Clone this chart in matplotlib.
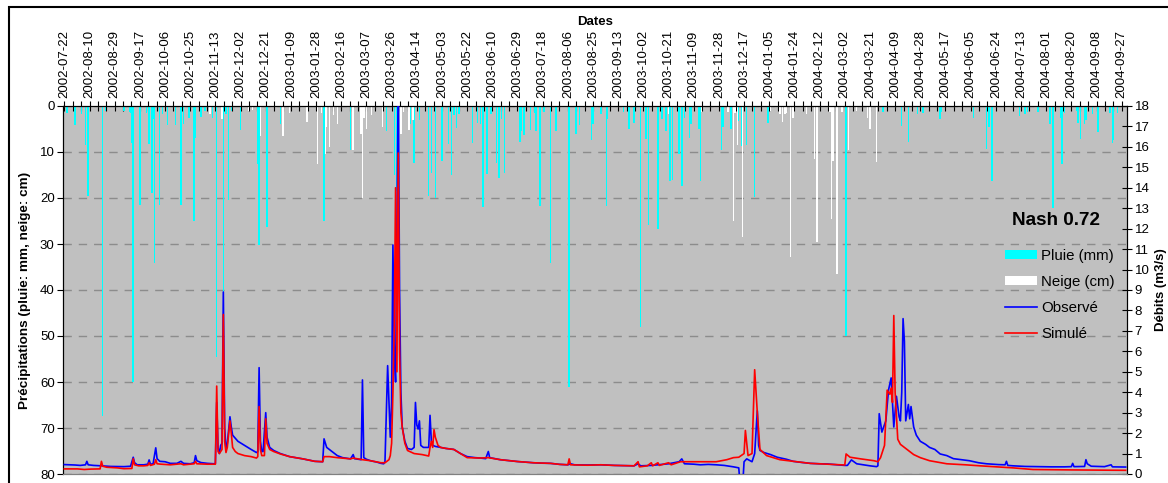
import numpy as np
import pandas as pd
import matplotlib
matplotlib.use('Agg')
import matplotlib.pyplot as plt
from matplotlib.ticker import MultipleLocator
from matplotlib.patches import Patch, Rectangle
from matplotlib.lines import Line2D

plt.rcParams['font.family'] = ['Liberation Sans', 'DejaVu Sans']

start = pd.Timestamp('2002-07-22')

# pluie journaliere (jour depuis le debut, mm)
rain_days = [2, 8, 13, 16, 18, 29, 31, 45, 49, 50, 51, 52, 57, 62, 64, 66, 67, 68, 72, 74,
             78, 84, 88, 90, 94, 98, 99, 103, 106, 112, 115, 120, 122, 124, 126, 133, 146, 147,
             153, 163, 196, 216, 243, 249, 251, 261, 264, 268, 275, 277, 280, 285, 290, 292,
             294, 296, 298, 308, 312, 314, 316, 319, 322, 326, 328, 330, 332, 344, 345, 347,
             352, 355, 356, 359, 362, 367, 371, 381, 386, 389, 398, 399, 405, 409, 410, 422,
             426, 430, 435, 439, 441, 448, 451, 454, 457, 459, 464, 466, 468, 472, 473, 479,
             480, 496, 497, 503, 509, 511, 515, 521, 531, 590, 618, 632, 637, 644, 648, 661,
             662, 686, 696, 698, 700, 721, 725, 727, 735, 744, 746, 752, 753, 755, 764, 765,
             767, 770, 771, 776, 780, 789, 791, 792, 795]
rain_mm = [1.6, 4.1, 1.8, 8.5, 19.5, 67.4, 1.0, 1.0, 1.2, 1.5, 8.0, 60.0, 21.5, 1.5, 8.3, 19.0, 2.8, 34.2, 21.5, 1.8,
           4.1, 4.1, 21.5, 4.0, 2.5, 25.1, 7.0, 2.3, 1.0, 2.5, 54.5, 42.0, 1.8, 20.4, 1.0, 5.2, 12.5, 30.2,
           26.2, 4.0, 25.1, 9.6, 5.5, 15.0, 18.4, 4.0, 12.4, 3.0, 19.6, 14.5, 20.1, 12.0, 8.2, 15.0,
           2.0, 4.8, 1.8, 8.1, 3.8, 4.0, 22.0, 14.7, 1.8, 12.3, 15.6, 2.9, 14.5, 7.8, 5.5, 6.3,
           5.2, 1.5, 5.5, 21.7, 1.3, 34.2, 5.4, 61.0, 6.0, 4.1, 7.4, 4.0, 1.8, 21.7, 2.9, 1.2,
           5.0, 3.6, 48.0, 7.1, 25.9, 26.8, 2.9, 5.5, 16.3, 16.1, 10.4, 17.4, 2.6, 7.0, 4.0, 5.0,
           16.4, 9.5, 4.5, 5.0, 3.2, 8.8, 8.4, 19.7, 3.6, 50.0, 1.3, 4.3, 7.8, 1.8, 1.5, 2.8,
           1.2, 2.5, 9.4, 4.5, 16.2, 2.2, 1.8, 1.4, 1.4, 4.0, 22.2, 2.5, 12.5, 1.5, 1.0, 3.6,
           7.1, 4.0, 3.1, 1.8, 5.6, 1.6, 8.0, 7.4, 1.5]

# neige journaliere (jour depuis le debut, cm)
snow_days = [110, 119, 139, 142, 148, 165, 170, 183, 191, 194, 197, 198, 200, 203, 206, 218,
             224, 225, 226, 228, 232, 240, 254, 256, 260, 263, 456, 481, 501, 505, 506, 508,
             512, 533, 540, 542, 544, 545, 548, 550, 560, 566, 568, 578, 579, 580, 583, 587,
             592, 598, 606, 608, 613]
snow_cm = [1.8, 2.9, 1.0, 0.8, 6.5, 6.5, 1.5, 3.4, 12.5, 1.5, 10.5, 4.6, 9.0, 2.0, 4.0, 9.6,
           6.0, 20.0, 2.6, 5.0, 2.0, 4.6, 6.1, 1.3, 5.2, 3.0, 1.8, 1.2, 1.2, 24.9, 1.5, 8.4,
           28.4, 1.0, 1.8, 3.4, 1.8, 1.5, 32.9, 2.5, 1.8, 11.6, 29.5, 1.2, 24.6, 12.0, 36.5, 1.2,
           9.6, 1.0, 2.5, 5.0, 12.1]

# debits observes (m3/s)
obs_days = [0, 4, 8, 12, 15, 16, 17, 18, 22, 28, 35, 45, 50, 52, 53, 55, 60, 63, 64, 65,
            67, 69, 70, 72, 76, 80, 85, 88, 90, 95, 98, 99, 100, 103, 108, 113, 114, 115, 116, 117,
            118, 119, 120, 121, 122, 123, 125, 126, 127, 129, 131, 136, 141, 145, 146, 147, 148, 149,
            150, 152, 153, 155, 158, 163, 170, 180, 189, 195, 196, 198, 201, 206, 210, 216, 218, 219,
            222, 224, 225, 226, 228, 231, 236, 239, 241, 242, 243, 244, 245, 246, 247, 248, 249, 250,
            251, 252, 253, 254, 255, 257, 259, 262, 264, 265, 266, 267, 268, 269, 271, 275, 276, 277,
            278, 280, 284, 288, 294, 299, 304, 310, 314, 318, 320, 321, 329, 335, 342, 348, 354, 360,
            367, 374, 380, 382, 385, 395, 405, 415, 425, 430, 433, 435, 443, 448, 456, 460, 464, 466,
            468, 475, 480, 486, 492, 498, 505, 509, 510, 512, 513, 515, 519, 521, 523, 524, 525, 528,
            533, 538, 545, 550, 556, 563, 570, 576, 583, 589, 591, 594, 598, 603, 608, 613, 614, 615,
            617, 620, 622, 624, 626, 628, 630, 631, 632, 633, 634, 635, 637, 638, 639, 641, 643, 646,
            650, 653, 657, 661, 666, 671, 677, 683, 690, 696, 705, 710, 711, 712, 716, 725, 735, 745,
            755, 760, 761, 762, 770, 771, 772, 775, 785, 790, 791, 801]
obs_q = [0.46, 0.45, 0.44, 0.42, 0.44, 0.45, 0.62, 0.45, 0.42, 0.40, 0.37, 0.36, 0.38, 0.82, 0.55, 0.45, 0.45, 0.48, 0.69, 0.48,
         0.50, 1.28, 0.75, 0.62, 0.60, 0.52, 0.52, 0.62, 0.52, 0.50, 0.55, 0.90, 0.65, 0.56, 0.52, 0.50, 0.52, 3.5, 1.3, 1.0,
         1.4, 1.5, 8.9, 2.3, 1.2, 1.5, 2.8, 2.3, 1.9, 1.75, 1.6, 1.4, 1.2, 1.05, 1.1, 5.2, 1.6, 1.1,
         1.1, 3.0, 1.8, 1.3, 1.15, 1.0, 0.85, 0.74, 0.62, 0.60, 1.72, 1.3, 1.15, 0.9, 0.8, 0.74, 0.95, 0.75,
         0.72, 0.70, 4.6, 0.8, 0.72, 0.65, 0.58, 0.52, 0.50, 0.60, 3.0, 5.3, 3.5, 1.8, 3.5, 11.2, 6.0, 4.5,
         12.0, 19.5, 9.0, 4.0, 2.3, 1.6, 1.25, 1.2, 1.3, 3.5, 2.4, 2.2, 2.6, 1.4, 1.3, 1.3, 2.87, 1.6,
         1.4, 1.35, 1.3, 1.25, 1.2, 1.0, 0.85, 0.8, 0.78, 0.75, 1.1, 0.8, 0.70, 0.66, 0.61, 0.58, 0.55, 0.53,
         0.52, 0.47, 0.45, 0.50, 0.45, 0.44, 0.45, 0.42, 0.41, 0.40, 0.50, 0.40, 0.42, 0.45, 0.50, 0.55, 0.60, 0.74,
         0.50, 0.48, 0.45, 0.47, 0.45, 0.42, 0.35, 0.30, -0.5, -0.5, 0.6, 0.74, 0.6, 1.0, 3.1, 1.4, 1.15, 1.05,
         0.95, 0.82, 0.72, 0.62, 0.57, 0.52, 0.50, 0.49, 0.45, 0.42, 0.42, 0.69, 0.50, 0.45, 0.40, 0.36, 0.40, 2.95,
         2.05, 2.6, 4.1, 4.7, 2.3, 3.8, 2.8, 2.6, 4.0, 7.6, 6.5, 2.6, 3.4, 2.7, 3.3, 2.3, 1.9, 1.6,
         1.45, 1.3, 1.2, 0.98, 0.9, 0.75, 0.70, 0.65, 0.55, 0.50, 0.46, 0.45, 0.62, 0.42, 0.40, 0.37, 0.36, 0.35,
         0.35, 0.36, 0.52, 0.36, 0.37, 0.70, 0.50, 0.38, 0.36, 0.45, 0.35, 0.34]

# debits simules (m3/s)
sim_days = [0, 10, 15, 20, 27, 28, 29, 32, 40, 45, 51, 52, 53, 56, 60, 63, 64, 65, 68, 69,
            70, 73, 80, 88, 90, 98, 99, 100, 108, 114, 115, 116, 117, 119, 120, 121, 122, 123, 125, 126,
            127, 129, 131, 136, 141, 145, 146, 147, 148, 149, 151, 152, 153, 155, 158, 163, 170, 180, 189, 195,
            196, 200, 206, 216, 218, 225, 231, 239, 242, 245, 246, 247, 248, 249, 250, 251, 252, 253, 254, 255,
            257, 259, 264, 270, 275, 276, 277, 278, 279, 280, 282, 284, 288, 294, 299, 304, 314, 320, 329, 342,
            354, 367, 374, 380, 381, 382, 395, 405, 415, 425, 430, 433, 434, 440, 443, 444, 448, 449, 456, 458,
            465, 470, 480, 492, 500, 505, 509, 513, 514, 516, 519, 521, 523, 525, 530, 540, 550, 563, 576, 589,
            590, 593, 601, 611, 614, 616, 619, 621, 623, 624, 625, 626, 627, 629, 631, 636, 641, 646, 653, 666,
            680, 691, 716, 731, 760, 801]
sim_q = [0.25, 0.25, 0.22, 0.24, 0.25, 0.62, 0.38, 0.33, 0.30, 0.26, 0.27, 0.75, 0.45, 0.40, 0.40, 0.42, 0.55, 0.42, 0.48, 0.70,
         0.50, 0.48, 0.45, 0.50, 0.45, 0.50, 0.62, 0.50, 0.48, 0.48, 4.3, 1.1, 1.0, 1.2, 7.8, 1.6, 1.05, 1.3, 2.6, 2.0,
         1.3, 1.1, 1.0, 0.9, 0.85, 0.78, 0.85, 3.3, 1.2, 0.9, 0.9, 2.7, 1.5, 1.2, 1.1, 0.98, 0.85, 0.74, 0.62, 0.60,
         0.85, 0.85, 0.80, 0.74, 0.78, 0.70, 0.65, 0.55, 0.55, 0.70, 0.90, 1.5, 4.0, 7.2, 14.0, 5.0, 15.7, 6.0, 3.0, 2.3,
         1.5, 1.15, 1.0, 0.95, 0.88, 1.3, 1.6, 1.3, 2.17, 1.8, 1.4, 1.3, 1.25, 1.2, 1.0, 0.80, 0.78, 0.80, 0.70, 0.61,
         0.55, 0.52, 0.47, 0.45, 0.74, 0.45, 0.43, 0.45, 0.42, 0.41, 0.40, 0.60, 0.35, 0.40, 0.55, 0.40, 0.55, 0.42, 0.55, 0.45,
         0.60, 0.60, 0.60, 0.60, 0.70, 0.80, 0.82, 1.0, 2.13, 0.9, 1.0, 5.1, 3.0, 1.2, 0.9, 0.70, 0.62, 0.52, 0.48, 0.44,
         0.98, 0.82, 0.74, 0.65, 0.60, 0.80, 1.4, 4.1, 3.9, 4.2, 3.5, 7.75, 4.0, 1.7, 1.45, 1.2, 0.95, 0.80, 0.65, 0.50,
         0.45, 0.40, 0.30, 0.22, 0.20, 0.18]

label_dates = pd.date_range(start, periods=43, freq='19D')
label_pos = (label_dates - start).days

W, H = 1168, 483
fig = plt.figure(figsize=(W / 100, H / 100), dpi=100)
fig.patch.set_facecolor('white')
ax = fig.add_axes([63 / W, (H - 474) / H, (1127 - 63) / W, (474 - 106) / H])
ax.set_facecolor('#C0C0C0')

ax.bar(rain_days, rain_mm, width=1.1, color='#00FFFF', linewidth=0, zorder=2)
ax.bar(snow_days, snow_cm, width=1.1, color='#FFFFFF', linewidth=0, zorder=2)
ax.set_ylim(80, 0)
ax.set_xlim(-1, 802)
ax.yaxis.set_major_locator(MultipleLocator(10))
ax.yaxis.grid(True, linestyle=(0, (6, 5)), color='#8C8C8C', linewidth=1.0)
ax.set_axisbelow(True)

# axe des dates en haut
ax.xaxis.tick_top()
ax.set_xticks(label_pos)
ax.set_xticklabels(label_dates.strftime('%Y-%m-%d'), rotation=90, fontsize=9.5)
ax.set_xticks(np.arange(0, 802, 19 / 3), minor=True)
ax.tick_params(axis='x', which='both', direction='inout', length=7, width=0.8, pad=2)
ax.tick_params(axis='y', direction='out', length=4, width=0.8, labelsize=9.5, pad=2)
ax.set_xlabel('Dates', fontsize=9.5, fontweight='bold', labelpad=4)
ax.xaxis.set_label_position('top')
ax.set_ylabel('Précipitations (pluie: mm, neige: cm)', fontsize=9.7, fontweight='bold', labelpad=6)

for side in ['top', 'left', 'right']:
    ax.spines[side].set_color('black')
ax.spines['bottom'].set_color('#808080')

ax2 = ax.twinx()
ax2.plot(obs_days, obs_q, color='#0000FF', linewidth=1.2, zorder=3)
ax2.plot(sim_days, sim_q, color='#FF0000', linewidth=1.2, zorder=4)
ax2.set_ylim(0, 18)
ax2.yaxis.set_major_locator(MultipleLocator(1))
ax2.tick_params(axis='y', direction='inout', length=7, width=0.8, labelsize=9.5, pad=2)
ax2.set_ylabel('Débits (m3/s)', fontsize=9.5, fontweight='bold', labelpad=4)
ax2.spines['bottom'].set_color('#808080')

fig.text(1056 / W, 1 - 221 / H, 'Nash 0.72', ha='center', va='center',
         fontsize=13.6, fontweight='bold')

handles = [Patch(facecolor='#00FFFF', edgecolor='none'),
           Patch(facecolor='#FFFFFF', edgecolor='none'),
           Line2D([], [], color='#0000FF', linewidth=1.2),
           Line2D([], [], color='#FF0000', linewidth=1.2)]
fig.legend(handles, ['Pluie (mm)', 'Neige (cm)', 'Observé', 'Simulé'],
           loc='upper left', bbox_to_anchor=(1005 / W, 1 - 249 / H),
           frameon=False, fontsize=10.8, borderpad=0, borderaxespad=0, handlelength=2.15,
           handleheight=0.6, handletextpad=0.25, labelspacing=0.8)

# cadre de la zone de graphique
fig.add_artist(Rectangle((9 / W, -0.1), 1.2, 1.1 - 7 / H, transform=fig.transFigure,
                         fill=False, edgecolor='black', linewidth=1.5))

fig.savefig('out.png', dpi=100)
